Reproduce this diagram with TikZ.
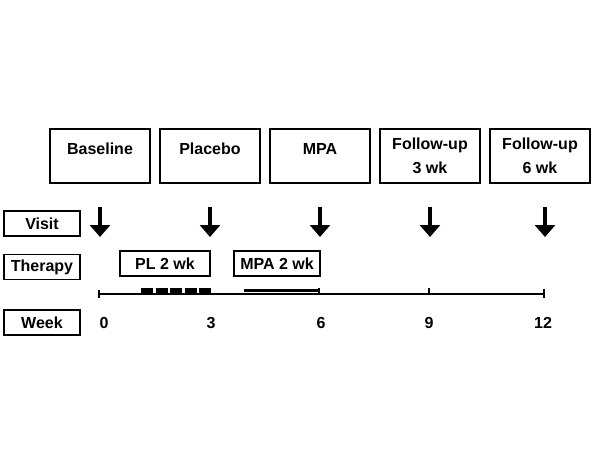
\documentclass[tikz,border=0pt]{standalone}
\usepackage{fontspec}
\setmainfont{Liberation Sans}
\usetikzlibrary{arrows.meta}
\begin{document}
\begin{tikzpicture}[x=1pt,y=-1pt,
  every node/.style={font=\fontsize{16}{19}\selectfont\bfseries},
  topbox/.style={draw,line width=1.5pt,minimum width=100pt,minimum height=54pt,inner sep=0pt},
  sidebox/.style={draw,line width=1.5pt,minimum width=76pt,minimum height=25pt,inner sep=0pt},
  thbox/.style={draw,line width=1.5pt,minimum height=25pt,inner sep=0pt},
  txt/.style={inner sep=0pt},
  visitarrow/.style={line width=4pt,-{Triangle[width=20pt,length=12pt]}},
  axisline/.style={line width=2pt},
  tickline/.style={line width=1.8pt}
]
\useasboundingbox[fill=white] (0,0) rectangle (600,450);
% top boxes
\node[topbox] (b1) at (100,156) {};
\node[topbox] (b2) at (210,156) {};
\node[topbox] (b3) at (320,156) {};
\node[topbox] (b4) at (430,156) {};
\node[topbox] (b5) at (540,156) {};
\node[txt] (t1) at (100,149) {Baseline};
\node[txt] (t2) at (210,149) {Placebo};
\node[txt] (t3) at (320,149) {MPA};
\node[txt] (t4a) at (430,145) {Follow-up};
\node[txt] (t4b) at (430,168) {3 wk};
\node[txt] (t5a) at (540,145) {Follow-up};
\node[txt] (t5b) at (540,168) {6 wk};
% side labels
\node[sidebox] (visit) at (42,223.5) {Visit};
\node[sidebox] (therapy) at (42,267) {Therapy};
\node[sidebox] (week) at (42,322.5) {Week};
% therapy boxes
\node[thbox,minimum width=90pt] (pl) at (165,263.5) {PL 2 wk};
\node[thbox,minimum width=86pt] (mpa) at (277,263.5) {MPA 2 wk};
% arrows
\foreach \i/\x in {1/100,2/210,3/320,4/430,5/545}{
  \coordinate (a\i s) at (\x,207);
  \coordinate (a\i e) at (\x,237);
  \draw[visitarrow] (a\i s) -- (a\i e);
}
% axis
\coordinate (ax0) at (99,294);
\coordinate (ax12) at (544,294);
\draw[axisline] (ax0) -- (ax12);
\draw[tickline] (99,290) -- (99,298);
\draw[tickline] (544,289) -- (544,298);
\foreach \x in {209,319,429}{
  \draw[tickline] (\x,288) -- (\x,295);
}
% therapy bars
\coordinate (pls) at (141,290.5);
\coordinate (ple) at (211,290.5);
\draw[line width=4.5pt,dash pattern=on 12pt off 2.5pt] (pls) -- (ple);
\coordinate (mpas) at (244,290.5);
\coordinate (mpae) at (319,290.5);
\draw[line width=3.5pt] (mpas) -- (mpae);
% week numbers
\node[txt] (w0) at (104,323) {0};
\node[txt] (w3) at (211,323) {3};
\node[txt] (w6) at (321,323) {6};
\node[txt] (w9) at (429,323) {9};
\node[txt] (w12) at (543,323) {12};
\end{tikzpicture}
\end{document}
